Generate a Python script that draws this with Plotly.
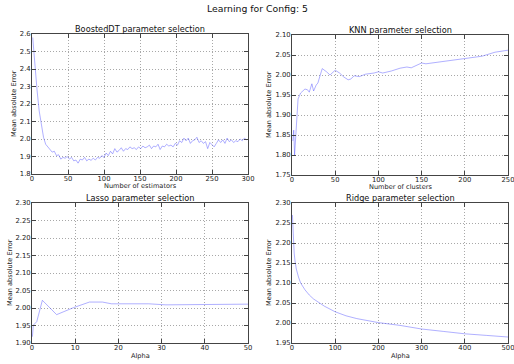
import plotly.graph_objects as go

# ---------------- data ----------------
boost_x = list(range(1, 300, 3))
boost_y = [2.58, 2.42, 2.28, 2.16, 2.07, 2.01, 1.97, 1.955, 1.94, 1.925,
           1.93, 1.905, 1.91, 1.885, 1.895, 1.89, 1.90, 1.885, 1.895, 1.875,
           1.88, 1.862, 1.885, 1.88, 1.895, 1.875, 1.885, 1.878, 1.89, 1.88,
           1.895, 1.89, 1.905, 1.895, 1.92, 1.905, 1.93, 1.915, 1.945, 1.925,
           1.935, 1.95, 1.93, 1.945, 1.94, 1.955, 1.945, 1.95, 1.94, 1.955,
           1.945, 1.96, 1.95, 1.955, 1.965, 1.945, 1.96, 1.955, 1.97, 1.94,
           1.96, 1.955, 1.97, 1.96, 1.965, 1.955, 1.975, 1.965, 1.99, 1.98,
           2.005, 1.99, 2.005, 1.975, 1.99, 1.995, 2.01, 1.98, 1.99, 1.975,
           1.985, 1.945, 1.98, 1.97, 1.955, 1.975, 1.995, 1.98, 1.995, 1.975,
           2.005, 1.985, 1.995, 1.98, 1.99, 1.985, 2.0, 1.99, 2.005, 1.995]

knn_x = [1, 2, 3, 5, 7, 10, 13, 15, 18, 20, 23, 25, 28, 30, 32, 35, 40, 44,
         50, 55, 60, 65, 68, 72, 78, 85, 95, 100, 105, 115, 125, 133, 138,
         150, 155, 170, 185, 200, 220, 235, 250]
knn_y = [1.835, 1.862, 1.80, 1.88, 1.94, 1.955, 1.96, 1.965, 1.963, 1.957,
         1.978, 1.96, 1.975, 1.98, 1.995, 2.016, 2.008, 2.0, 2.012, 2.005,
         1.995, 1.988, 1.99, 1.998, 1.996, 2.002, 2.005, 2.008, 2.005, 2.01,
         2.017, 2.02, 2.018, 2.03, 2.028, 2.032, 2.036, 2.04, 2.047, 2.057,
         2.062]

lasso_x = [0.1, 0.3, 1.1, 2.4, 5.7, 9.6, 13.3, 16.3, 18.4, 27, 31, 40, 50]
lasso_y = [1.918, 1.951, 1.961, 2.022, 1.981, 2.001, 2.017, 2.017, 2.012,
           2.012, 2.009, 2.010, 2.011]

ridge_x = [1, 3, 5, 7, 10, 15, 20, 30, 40, 50, 60, 75, 100, 125, 150, 175,
           200, 250, 300, 350, 400, 450, 500]
ridge_y = [2.27, 2.21, 2.175, 2.155, 2.135, 2.115, 2.10, 2.083, 2.07, 2.06,
           2.052, 2.042, 2.028, 2.018, 2.011, 2.006, 2.001, 1.994, 1.985,
           1.979, 1.973, 1.969, 1.965]

titles = ["BoostedDT parameter selection", "KNN parameter selection",
          "Lasso parameter selection", "Ridge parameter selection"]
xlabels = ["Number of estimators", "Number of clusters", "Alpha", "Alpha"]
ylabel = "Mean absolute Error"
suptitle = "Learning for Config: 5"

# ---------------- figure ----------------
W, H = 514, 364
LINE = dict(color="rgba(90,90,255,0.48)", width=1)
FONT = "DejaVu Sans, Arial, sans-serif"

fig = go.Figure()
series = [(boost_x, boost_y), (knn_x, knn_y), (lasso_x, lasso_y), (ridge_x, ridge_y)]
for i, (xs, ys) in enumerate(series):
    sfx = "" if i == 0 else str(i + 1)
    fig.add_trace(go.Scatter(x=xs, y=ys, mode="lines", line=LINE,
                             xaxis="x" + sfx, yaxis="y" + sfx, showlegend=False,
                             hoverinfo="x+y"))

# axes pixel boxes (left, right, top, bottom)
boxes = [(32, 248, 34, 174), (292, 508, 35, 175), (32, 248, 203, 343), (292, 508, 203, 343)]
ylab_off = [18, 23, 22, 23]
xranges = [[0, 300], [0, 250], [0, 50], [0, 500]]
xdticks = [50, 50, 10, 100]
yranges = [[1.8, 2.6], [1.75, 2.10], [1.90, 2.30], [1.95, 2.30]]
ydticks = [0.1, 0.05, 0.05, 0.05]
yfmt = [".1f", ".2f", ".2f", ".2f"]

common = dict(showline=True, linecolor="#444444", linewidth=1, mirror="ticks",
              ticks="inside", ticklen=4, tickcolor="#444444", showgrid=True,
              gridcolor="#a8a8a8", griddash="1px,2px", gridwidth=1, zeroline=False,
              automargin=False, ticklabeloverflow="allow",
              tickfont=dict(family=FONT, size=6.8, color="#222222"))

annotations = []
for i, (l, r, t, b) in enumerate(boxes):
    sfx = "" if i == 0 else str(i + 1)
    xd = [l / W, r / W]
    yd = [(H - b) / H, (H - t) / H]
    fig.layout["xaxis" + sfx] = dict(domain=xd, range=xranges[i], dtick=xdticks[i],
                                     tick0=0, anchor="y" + sfx, ticklabelstandoff=-2,
                                     **common)
    fig.layout["yaxis" + sfx] = dict(domain=yd, range=yranges[i], dtick=ydticks[i],
                                     tick0=0, tickformat=yfmt[i], anchor="x" + sfx,
                                     ticklabelstandoff=-1, **common)
    cx = (l + r) / 2 / W
    annotations.append(dict(text=titles[i], x=cx, y=(H - (t - 5.5)) / H, xref="paper",
                            yref="paper", xanchor="center", yanchor="middle",
                            showarrow=False, font=dict(family=FONT, size=8.2, color="#111111")))
    annotations.append(dict(text=xlabels[i], x=cx, y=(H - (b + 12.5)) / H,
                            xref="paper", yref="paper", xanchor="center",
                            yanchor="middle", showarrow=False,
                            font=dict(family=FONT, size=6.6, color="#222222")))
    annotations.append(dict(text=ylabel, x=(l - ylab_off[i]) / W, y=(H - (t + b) / 2) / H,
                            xref="paper", yref="paper", xanchor="center", yanchor="middle",
                            textangle=-90, showarrow=False,
                            font=dict(family=FONT, size=6.6, color="#222222")))

annotations.append(dict(text=suptitle, x=0.5, y=(H - 8) / H, xref="paper", yref="paper",
                        xanchor="center", yanchor="middle", showarrow=False,
                        font=dict(family=FONT, size=9.3, color="#111111")))

fig.update_layout(width=W, height=H, margin=dict(l=0, r=0, t=0, b=0),
                  paper_bgcolor="white", plot_bgcolor="white",
                  annotations=annotations)

assert len(boost_x) == len(boost_y)
fig.write_html("out.html", config={"displayModeBar": False},
               post_script="document.body.style.margin='0';document.body.style.padding='0';")
